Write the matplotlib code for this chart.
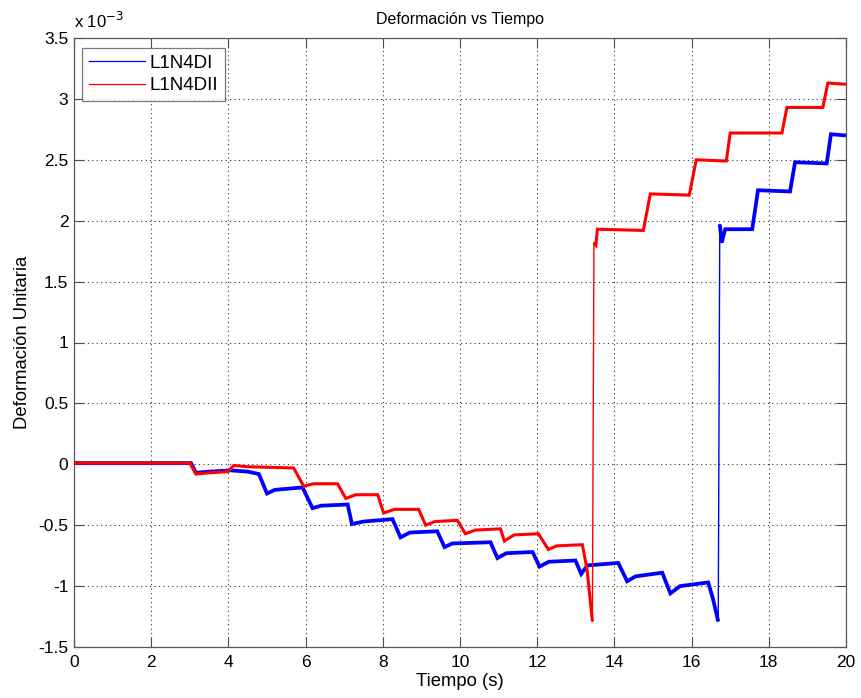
import numpy as np
import matplotlib
matplotlib.use("Agg")
import matplotlib.pyplot as plt

plt.rcParams['font.family'] = ['Liberation Sans', 'DejaVu Sans']

# data (strain in units of 1e-3)
t_l1n4di = [0, 3.03, 3.16, 3.5, 4.06, 4.5, 4.79, 5.0, 5.2, 5.92, 6.18, 6.4, 7.09, 7.2, 7.5,
            8.25, 8.46, 8.7, 9.41, 9.6, 9.8, 10.79, 10.97, 11.2, 11.88, 12.06, 12.3, 12.99,
            13.14, 13.3, 14.1, 14.33, 14.55, 15.24, 15.45, 15.7, 16.43, 16.55, 16.69, 16.73,
            16.78, 16.87, 17.57, 17.72, 18.55, 18.68, 19.5, 19.61, 20]
v_l1n4di = [0.01, 0.01, -0.07, -0.06, -0.05, -0.06, -0.08, -0.24, -0.21, -0.19, -0.36, -0.34,
            -0.33, -0.49, -0.47, -0.45, -0.60, -0.56, -0.55, -0.68, -0.65, -0.64, -0.77, -0.73,
            -0.72, -0.84, -0.80, -0.79, -0.90, -0.83, -0.81, -0.96, -0.92, -0.89, -1.06, -1.00,
            -0.97, -1.10, -1.29, 1.97, 1.82, 1.93, 1.93, 2.25, 2.24, 2.48, 2.47, 2.71, 2.70]

t_l1n4dii = [0, 3.0, 3.16, 3.5, 3.98, 4.14, 4.5, 5.69, 5.95, 6.2, 6.83, 7.04, 7.3, 7.87, 8.02,
             8.3, 8.93, 9.11, 9.35, 9.93, 10.14, 10.4, 11.05, 11.15, 11.4, 12.03, 12.29, 12.5,
             13.17, 13.29, 13.43, 13.47, 13.52, 13.56, 14.75, 14.93, 15.94, 16.12, 16.9, 17.0,
             18.34, 18.47, 19.4, 19.53, 20]
v_l1n4dii = [0.01, 0.01, -0.08, -0.07, -0.06, -0.01, -0.02, -0.03, -0.18, -0.16, -0.16, -0.28,
             -0.25, -0.25, -0.40, -0.37, -0.37, -0.50, -0.47, -0.46, -0.57, -0.54, -0.53, -0.63,
             -0.58, -0.57, -0.70, -0.67, -0.66, -0.86, -1.29, 1.82, 1.80, 1.93, 1.92, 2.22, 2.21,
             2.50, 2.49, 2.72, 2.72, 2.93, 2.93, 3.13, 3.12]

xticks = list(range(0, 21, 2))
yticks = [-1.5, -1, -0.5, 0, 0.5, 1, 1.5, 2, 2.5, 3, 3.5]

fig = plt.figure(figsize=(8.61, 6.98), dpi=100)
ax = fig.add_axes([74/861, 1-647/698, (846-74)/861, (647-38)/698])


def draw(t, v, color, lw_thick, label):
    t = np.asarray(t, float)
    v = np.asarray(v, float)
    ax.plot(t, v, color=color, lw=1.0, label=label, zorder=3)
    slope = np.abs(np.diff(v) / np.diff(t))
    # thick band (noise envelope) only where there is no sudden jump
    tt, vv = [t[0]], [v[0]]
    for i, s in enumerate(slope):
        if s < 10:
            tt.append(t[i + 1]); vv.append(v[i + 1])
        else:
            tt += [np.nan, t[i + 1]]; vv += [np.nan, v[i + 1]]
    ax.plot(tt, vv, color=color, lw=lw_thick, solid_capstyle='butt',
            solid_joinstyle='miter', zorder=3)


draw(t_l1n4di, v_l1n4di, (0, 0, 1), 2.7, 'L1N4DI')
draw(t_l1n4dii, v_l1n4dii, (1, 0, 0), 2.2, 'L1N4DII')

ax.set_xlim(0, 20)
ax.set_ylim(-1.5, 3.5)
ax.set_xticks(xticks)
ax.set_yticks(yticks)
ax.set_xticklabels([str(x) for x in xticks])
ax.set_yticklabels([('%g' % y) for y in yticks])
ax.tick_params(direction='in', length=7, width=0.8, top=True, right=True,
               labelsize=12.5, colors=(0.3, 0.3, 0.3), labelcolor='black')
ax.tick_params(axis='x', pad=6)
ax.tick_params(axis='y', pad=4)
for sp in ax.spines.values():
    sp.set_color((0.35, 0.35, 0.35))
    sp.set_linewidth(0.9)
ax.grid(True, linestyle=(0, (1, 3)), color=(0.2, 0.2, 0.2), linewidth=0.8)
ax.set_axisbelow(True)

ax.set_title('Deformación vs Tiempo', fontsize=11.5, pad=10)
ax.set_xlabel('Tiempo (s)', fontsize=13.3, labelpad=2)
ax.set_ylabel('Deformación Unitaria', fontsize=13.3, labelpad=5)
ax.text(0.0, 1.012, r'x 10$^{-3}$', transform=ax.transAxes, fontsize=12,
        ha='left', va='bottom')

leg = ax.legend(loc='upper left', bbox_to_anchor=(0.0104, 0.9836), fontsize=13.5,
                frameon=True, fancybox=False, edgecolor=(0.35, 0.35, 0.35),
                handlelength=3.0, borderpad=0.35, labelspacing=0.3, handletextpad=0.25,
                borderaxespad=0)
leg.get_frame().set_linewidth(0.9)
for h in leg.get_lines():
    h.set_linewidth(0.9)

fig.savefig('out.png', dpi=100)
